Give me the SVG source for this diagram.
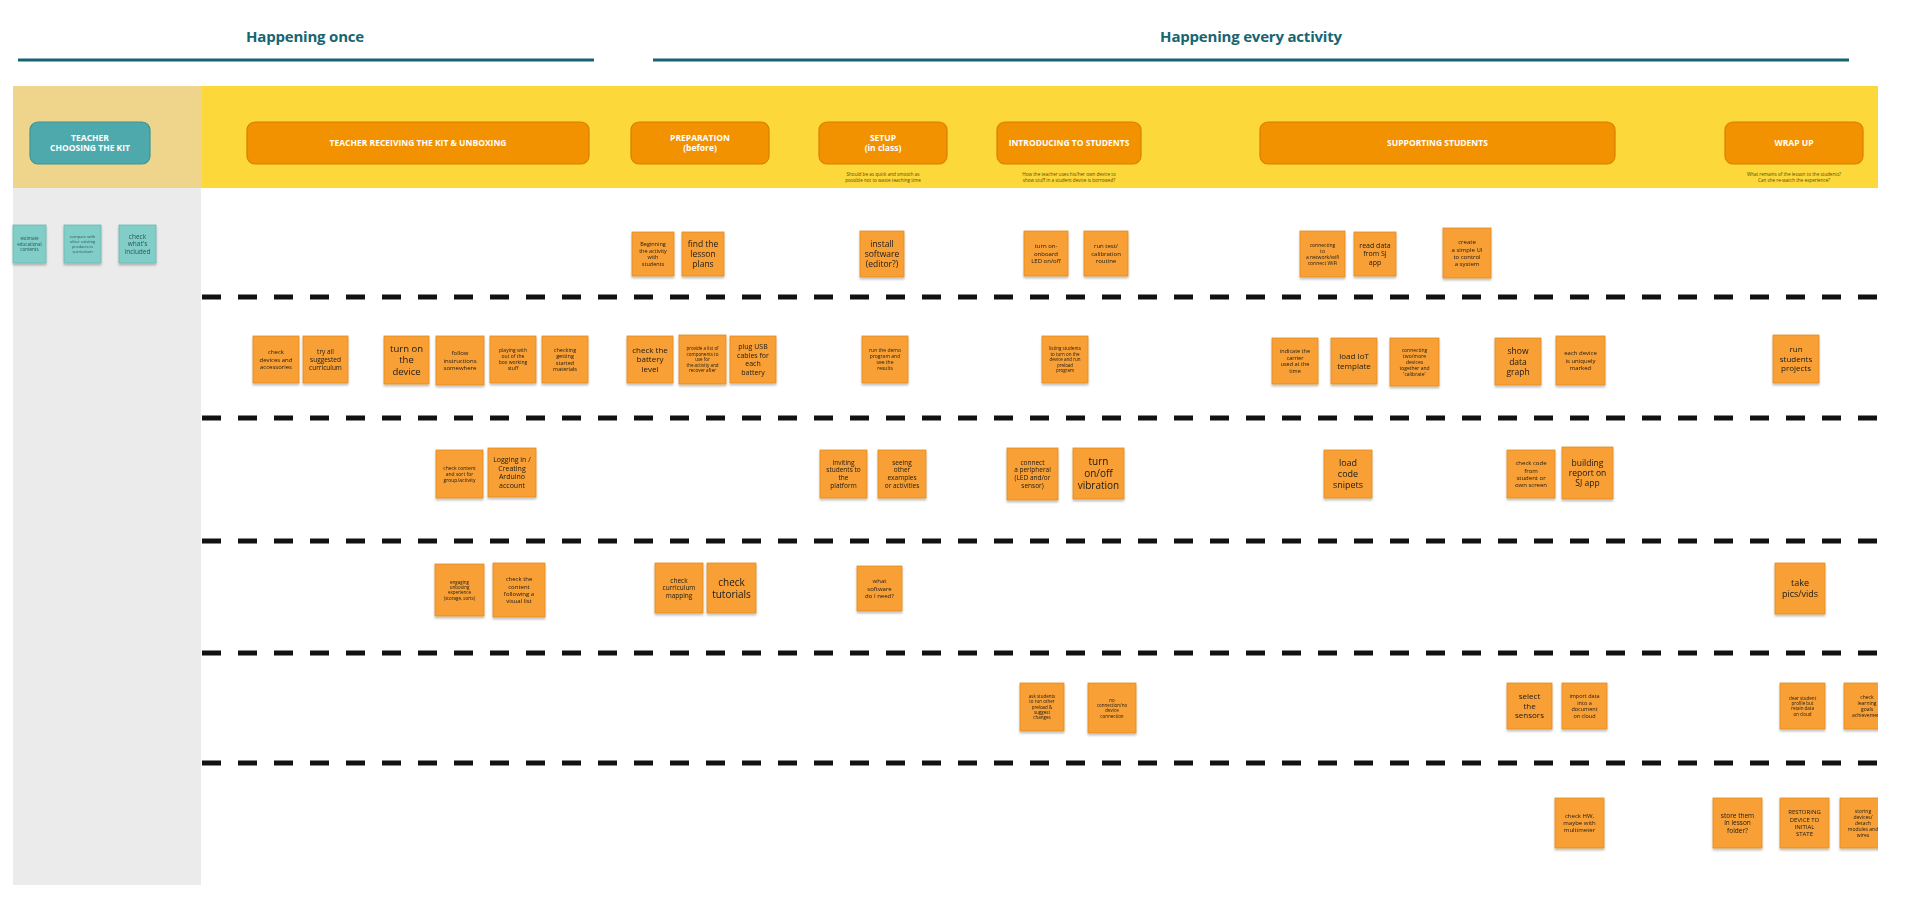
<svg xmlns="http://www.w3.org/2000/svg" width="1920" height="914" viewBox="0 0 1920 914">
<style>
.hd{font-family:"Open Sans","Liberation Sans",sans-serif;font-weight:bold;fill:#176573;font-size:15px;letter-spacing:-0.2px;text-anchor:middle}
.bar{stroke:#176573;stroke-width:3;fill:none}
.hbox{fill:#f39200;stroke:#d87f00;stroke-width:1.2}
.tbox{fill:#4ea9ac;stroke:#3f9497;stroke-width:1.2}
.hl{font-family:"Liberation Sans Narrow","Open Sans",sans-serif;font-weight:bold;fill:#ffffff;font-size:8.5px;text-anchor:middle}
.sub{font-family:"Liberation Sans Narrow","Open Sans",sans-serif;fill:#5a4a10;font-size:4.6px;text-anchor:middle}
.st{fill:#f8a035;stroke:#e1891f;stroke-width:0.8}
.tl{fill:#80cec7;stroke:#69b8b1;stroke-width:0.8}
.sx{font-family:"Liberation Sans Narrow","Open Sans",sans-serif;fill:#1a1a1a;text-anchor:middle}
.tx{font-family:"Liberation Sans Narrow","Open Sans",sans-serif;fill:#2d5553;text-anchor:middle}
.dash{stroke:#111111;stroke-width:5;stroke-dasharray:19 17;fill:none}
</style>
<defs>
<filter id="sh" x="-20%" y="-20%" width="140%" height="150%"><feDropShadow dx="0" dy="2" stdDeviation="1.2" flood-color="#000" flood-opacity="0.25"/></filter>
<clipPath id="cr"><rect x="0" y="0" width="1878" height="914"/></clipPath>
</defs>
<rect x="0" y="0" width="1920" height="914" fill="#ffffff"/>

<g id="timeline">
<text class="hd" x="305" y="42">Happening once</text>
<line class="bar" x1="18" y1="60" x2="594" y2="60"/>
<text class="hd" x="1251" y="42">Happening every activity</text>
<line class="bar" x1="653" y1="60" x2="1849" y2="60"/>
</g>

<g id="lanes">
<rect x="13" y="86" width="189" height="102" fill="#eed58b"/>
<rect x="202" y="86" width="1676" height="102" fill="#fdd83a"/>
<rect x="13" y="188" width="188" height="697" fill="#ebebeb"/>
</g>

<g id="phase-choosing"><rect class="tbox" x="30" y="122" width="120" height="42" rx="8"/><text class="hl" x="90" y="140.8">TEACHER<tspan x="90" dy="10">CHOOSING THE KIT</tspan></text></g>
<g id="phase-receiving"><rect class="hbox" x="247" y="122" width="342" height="42" rx="8"/><text class="hl" x="418" y="146">TEACHER RECEIVING THE KIT &amp; UNBOXING</text></g>
<g id="phase-preparation"><rect class="hbox" x="631" y="122" width="138" height="42" rx="8"/><text class="hl" x="700" y="140.8">PREPARATION<tspan x="700" dy="10">(before)</tspan></text></g>
<g id="phase-setup"><rect class="hbox" x="819" y="122" width="128" height="42" rx="8"/><text class="hl" x="883" y="140.8">SETUP<tspan x="883" dy="10">(in class)</tspan></text>
<text class="sub" x="883" y="176">Should be as quick and smooth as<tspan x="883" dy="6">possible not to waste teaching time</tspan></text></g>
<g id="phase-introducing"><rect class="hbox" x="997" y="122" width="144" height="42" rx="8"/><text class="hl" x="1069" y="146">INTRODUCING TO STUDENTS</text>
<text class="sub" x="1069" y="176">How the teacher uses his/her own device to<tspan x="1069" dy="6">show stuff in a student device is borrowed?</tspan></text></g>
<g id="phase-supporting"><rect class="hbox" x="1260" y="122" width="355" height="42" rx="8"/><text class="hl" x="1437.5" y="146">SUPPORTING STUDENTS</text></g>
<g id="phase-wrapup"><rect class="hbox" x="1725" y="122" width="138" height="42" rx="8"/><text class="hl" x="1794" y="146">WRAP UP</text>
<text class="sub" x="1794" y="176">What remains of the lesson to the students?<tspan x="1794" dy="6">Can she re-watch the experience?</tspan></text></g>

<g id="separators">
<line class="dash" x1="202" y1="297" x2="1878" y2="297"/>
<line class="dash" x1="202" y1="418" x2="1878" y2="418"/>
<line class="dash" x1="202" y1="541" x2="1878" y2="541"/>
<line class="dash" x1="202" y1="653" x2="1878" y2="653"/>
<line class="dash" x1="202" y1="763" x2="1878" y2="763"/>
</g>

<!-- teal stickies -->
<g id="t-estimate" filter="url(#sh)"><rect class="tl" x="13" y="225" width="33" height="38"/><text class="tx" font-size="4.5" x="29.5" y="240.2">estimate<tspan x="29.5" dy="5.4">educational</tspan><tspan x="29.5" dy="5.4">contents</tspan></text></g>
<g id="t-compare" filter="url(#sh)"><rect class="tl" x="64" y="225" width="37" height="38"/><text class="tx" font-size="4" x="82.5" y="238.2">compare with<tspan x="82.5" dy="4.8">other existing</tspan><tspan x="82.5" dy="4.8">products in</tspan><tspan x="82.5" dy="4.8">curriculum</tspan></text></g>
<g id="t-included" filter="url(#sh)"><rect class="tl" x="119" y="225" width="37" height="38"/><text class="tx" font-size="6.5" x="137.5" y="238.5">check<tspan x="137.5" dy="7.8">what's</tspan><tspan x="137.5" dy="7.8">included</tspan></text></g>

<!-- row 1 -->
<g id="s-beginning" filter="url(#sh)"><rect class="st" x="632" y="232" width="42" height="44"/><text class="sx" font-size="5.5" x="653" y="246">Beginning<tspan x="653" dy="6.6">the activity</tspan><tspan x="653" dy="6.6">with</tspan><tspan x="653" dy="6.6">students</tspan></text></g>
<g id="s-lessonplans" filter="url(#sh)"><rect class="st" x="682" y="232" width="42" height="44"/><text class="sx" font-size="8.5" x="703" y="246.8">find the<tspan x="703" dy="10.2">lesson</tspan><tspan x="703" dy="10.2">plans</tspan></text></g>
<g id="s-install" filter="url(#sh)"><rect class="st" x="860" y="231" width="44" height="46"/><text class="sx" font-size="8.5" x="882" y="246.8">install<tspan x="882" dy="10.2">software</tspan><tspan x="882" dy="10.2">(editor?)</tspan></text></g>
<g id="s-led" filter="url(#sh)"><rect class="st" x="1024" y="231" width="44" height="45"/><text class="sx" font-size="6" x="1046" y="248.4">turn on-<tspan x="1046" dy="7.2">onboard</tspan><tspan x="1046" dy="7.2">LED on/off</tspan></text></g>
<g id="s-calibration" filter="url(#sh)"><rect class="st" x="1084" y="231" width="44" height="45"/><text class="sx" font-size="6" x="1106" y="248.4">run test/<tspan x="1106" dy="7.2">calibration</tspan><tspan x="1106" dy="7.2">routine</tspan></text></g>
<g id="s-network" filter="url(#sh)"><rect class="st" x="1300" y="231" width="45" height="46"/><text class="sx" font-size="5" x="1322.5" y="246.75">connecting<tspan x="1322.5" dy="6">to</tspan><tspan x="1322.5" dy="6">a network/wifi</tspan><tspan x="1322.5" dy="6">connect WiFi</tspan></text></g>
<g id="s-readdata" filter="url(#sh)"><rect class="st" x="1354" y="232" width="42" height="44"/><text class="sx" font-size="7" x="1375" y="248">read data<tspan x="1375" dy="8.4">from SJ</tspan><tspan x="1375" dy="8.4">app</tspan></text></g>
<g id="s-simpleui" filter="url(#sh)"><rect class="st" x="1443" y="228" width="48" height="50"/><text class="sx" font-size="6" x="1467" y="244.3">create<tspan x="1467" dy="7.2">a simple UI</tspan><tspan x="1467" dy="7.2">to control</tspan><tspan x="1467" dy="7.2">a system</tspan></text></g>

<!-- row 2 -->
<g id="s-checkdevices" filter="url(#sh)"><rect class="st" x="253" y="336" width="46" height="47"/><text class="sx" font-size="6" x="276" y="354.4">check<tspan x="276" dy="7.2">devices and</tspan><tspan x="276" dy="7.2">accessories</tspan></text></g>
<g id="s-tryall" filter="url(#sh)"><rect class="st" x="303" y="336" width="45" height="47"/><text class="sx" font-size="6.5" x="325.5" y="354">try all<tspan x="325.5" dy="7.8">suggested</tspan><tspan x="325.5" dy="7.8">curriculum</tspan></text></g>
<g id="s-turnon" filter="url(#sh)"><rect class="st" x="384" y="336" width="45" height="48"/><text class="sx" font-size="9.5" x="406.5" y="351.9">turn on<tspan x="406.5" dy="11.4">the</tspan><tspan x="406.5" dy="11.4">device</tspan></text></g>
<g id="s-follow" filter="url(#sh)"><rect class="st" x="436" y="336" width="48" height="49"/><text class="sx" font-size="6" x="460" y="355.4">follow<tspan x="460" dy="7.2">instructions</tspan><tspan x="460" dy="7.2">somewhere</tspan></text></g>
<g id="s-playing" filter="url(#sh)"><rect class="st" x="490" y="336" width="46" height="47"/><text class="sx" font-size="5" x="513" y="352.25">playing with<tspan x="513" dy="6">out of the</tspan><tspan x="513" dy="6">box working</tspan><tspan x="513" dy="6">stuff</tspan></text></g>
<g id="s-checking" filter="url(#sh)"><rect class="st" x="542" y="336" width="46" height="47"/><text class="sx" font-size="5.5" x="565" y="351.5">checking<tspan x="565" dy="6.6">getting</tspan><tspan x="565" dy="6.6">started</tspan><tspan x="565" dy="6.6">materials</tspan></text></g>
<g id="s-battery" filter="url(#sh)"><rect class="st" x="627" y="336" width="46" height="47"/><text class="sx" font-size="8" x="650" y="352.7">check the<tspan x="650" dy="9.6">battery</tspan><tspan x="650" dy="9.6">level</tspan></text></g>
<g id="s-provide" filter="url(#sh)"><rect class="st" x="679" y="335" width="47" height="49"/><text class="sx" font-size="4.5" x="702.5" y="350.3">provide a list of<tspan x="702.5" dy="5.4">components to</tspan><tspan x="702.5" dy="5.4">use for</tspan><tspan x="702.5" dy="5.4">the activity and</tspan><tspan x="702.5" dy="5.4">recover after</tspan></text></g>
<g id="s-usb" filter="url(#sh)"><rect class="st" x="730" y="336" width="46" height="47"/><text class="sx" font-size="7" x="753" y="349.35">plug USB<tspan x="753" dy="8.4">cables for</tspan><tspan x="753" dy="8.4">each</tspan><tspan x="753" dy="8.4">battery</tspan></text></g>
<g id="s-demo" filter="url(#sh)"><rect class="st" x="862" y="336" width="46" height="47"/><text class="sx" font-size="5" x="885" y="352.25">run the demo<tspan x="885" dy="6">program and</tspan><tspan x="885" dy="6">see the</tspan><tspan x="885" dy="6">results</tspan></text></g>
<g id="s-listing" filter="url(#sh)"><rect class="st" x="1042" y="336" width="46" height="47"/><text class="sx" font-size="4.5" x="1065" y="350.3">listing students<tspan x="1065" dy="5.4">to turn on the</tspan><tspan x="1065" dy="5.4">device and run</tspan><tspan x="1065" dy="5.4">preload</tspan><tspan x="1065" dy="5.4">program</tspan></text></g>
<g id="s-carrier" filter="url(#sh)"><rect class="st" x="1272" y="338" width="46" height="46"/><text class="sx" font-size="5.5" x="1295" y="353">indicate the<tspan x="1295" dy="6.6">carrier</tspan><tspan x="1295" dy="6.6">used at the</tspan><tspan x="1295" dy="6.6">time</tspan></text></g>
<g id="s-iot" filter="url(#sh)"><rect class="st" x="1331" y="338" width="46" height="46"/><text class="sx" font-size="8" x="1354" y="359">load IoT<tspan x="1354" dy="9.6">template</tspan></text></g>
<g id="s-connecting" filter="url(#sh)"><rect class="st" x="1390" y="338" width="49" height="48"/><text class="sx" font-size="5" x="1414.5" y="351.75">connecting<tspan x="1414.5" dy="6">two/more</tspan><tspan x="1414.5" dy="6">devices</tspan><tspan x="1414.5" dy="6">together and</tspan><tspan x="1414.5" dy="6">'calibrate'</tspan></text></g>
<g id="s-graph" filter="url(#sh)"><rect class="st" x="1495" y="338" width="46" height="47"/><text class="sx" font-size="8.5" x="1518" y="354.3">show<tspan x="1518" dy="10.2">data</tspan><tspan x="1518" dy="10.2">graph</tspan></text></g>
<g id="s-marked" filter="url(#sh)"><rect class="st" x="1556" y="336" width="49" height="49"/><text class="sx" font-size="6" x="1580.5" y="355.4">each device<tspan x="1580.5" dy="7.2">is uniquely</tspan><tspan x="1580.5" dy="7.2">marked</tspan></text></g>
<g id="s-projects" filter="url(#sh)"><rect class="st" x="1773" y="335" width="46" height="48"/><text class="sx" font-size="8" x="1796" y="352.2">run<tspan x="1796" dy="9.6">students</tspan><tspan x="1796" dy="9.6">projects</tspan></text></g>

<!-- row 3 -->
<g id="s-sortcontent" filter="url(#sh)"><rect class="st" x="436" y="450" width="47" height="48"/><text class="sx" font-size="5" x="459.5" y="469.75">check content<tspan x="459.5" dy="6">and sort for</tspan><tspan x="459.5" dy="6">group/activity</tspan></text></g>
<g id="s-logging" filter="url(#sh)"><rect class="st" x="488" y="448" width="48" height="49"/><text class="sx" font-size="7" x="512" y="462.35">Logging in /<tspan x="512" dy="8.4">Creating</tspan><tspan x="512" dy="8.4">Arduino</tspan><tspan x="512" dy="8.4">account</tspan></text></g>
<g id="s-inviting" filter="url(#sh)"><rect class="st" x="820" y="450" width="47" height="48"/><text class="sx" font-size="6.5" x="843.5" y="464.6">Inviting<tspan x="843.5" dy="7.8">students to</tspan><tspan x="843.5" dy="7.8">the</tspan><tspan x="843.5" dy="7.8">platform</tspan></text></g>
<g id="s-examples" filter="url(#sh)"><rect class="st" x="878" y="450" width="48" height="48"/><text class="sx" font-size="6.5" x="902" y="464.6">seeing<tspan x="902" dy="7.8">other</tspan><tspan x="902" dy="7.8">examples</tspan><tspan x="902" dy="7.8">or activities</tspan></text></g>
<g id="s-peripheral" filter="url(#sh)"><rect class="st" x="1007" y="448" width="51" height="52"/><text class="sx" font-size="6.5" x="1032.5" y="464.6">connect<tspan x="1032.5" dy="7.8">a peripheral</tspan><tspan x="1032.5" dy="7.8">(LED and/or</tspan><tspan x="1032.5" dy="7.8">sensor)</tspan></text></g>
<g id="s-vibration" filter="url(#sh)"><rect class="st" x="1073" y="448" width="51" height="51"/><text class="sx" font-size="10" x="1098.5" y="465">turn<tspan x="1098.5" dy="12">on/off</tspan><tspan x="1098.5" dy="12">vibration</tspan></text></g>
<g id="s-snipets" filter="url(#sh)"><rect class="st" x="1324" y="450" width="48" height="48"/><text class="sx" font-size="9" x="1348" y="466.35">load<tspan x="1348" dy="10.8">code</tspan><tspan x="1348" dy="10.8">snipets</tspan></text></g>
<g id="s-checkcode" filter="url(#sh)"><rect class="st" x="1507" y="450" width="48" height="48"/><text class="sx" font-size="6" x="1531" y="465.3">check code<tspan x="1531" dy="7.2">from</tspan><tspan x="1531" dy="7.2">student or</tspan><tspan x="1531" dy="7.2">own screen</tspan></text></g>
<g id="s-report" filter="url(#sh)"><rect class="st" x="1562" y="447" width="51" height="52"/><text class="sx" font-size="8.5" x="1587.5" y="465.8">building<tspan x="1587.5" dy="10.2">report on</tspan><tspan x="1587.5" dy="10.2">SJ app</tspan></text></g>

<!-- row 4 -->
<g id="s-engaging" filter="url(#sh)"><rect class="st" x="435" y="564" width="49" height="52"/><text class="sx" font-size="4.5" x="459.5" y="583.5">engaging<tspan x="459.5" dy="5.4">unboxing</tspan><tspan x="459.5" dy="5.4">experience</tspan><tspan x="459.5" dy="5.4">(storage, sorts)</tspan></text></g>
<g id="s-visuallist" filter="url(#sh)"><rect class="st" x="493" y="563" width="52" height="54"/><text class="sx" font-size="6" x="519" y="581.3">check the<tspan x="519" dy="7.2">content</tspan><tspan x="519" dy="7.2">following a</tspan><tspan x="519" dy="7.2">visual list</tspan></text></g>
<g id="s-mapping" filter="url(#sh)"><rect class="st" x="655" y="563" width="48" height="50"/><text class="sx" font-size="6.5" x="679" y="582.5">check<tspan x="679" dy="7.8">curriculum</tspan><tspan x="679" dy="7.8">mapping</tspan></text></g>
<g id="s-tutorials" filter="url(#sh)"><rect class="st" x="707" y="563" width="49" height="50"/><text class="sx" font-size="10" x="731.5" y="585.5">check<tspan x="731.5" dy="12">tutorials</tspan></text></g>
<g id="s-whatsoftware" filter="url(#sh)"><rect class="st" x="857" y="566" width="45" height="45"/><text class="sx" font-size="6" x="879.5" y="583.4">what<tspan x="879.5" dy="7.2">software</tspan><tspan x="879.5" dy="7.2">do I need?</tspan></text></g>
<g id="s-pics" filter="url(#sh)"><rect class="st" x="1775" y="563" width="50" height="51"/><text class="sx" font-size="9" x="1800" y="586.25">take<tspan x="1800" dy="10.8">pics/vids</tspan></text></g>

<!-- row 5 -->
<g id="s-askstudents" filter="url(#sh)"><rect class="st" x="1020" y="683" width="44" height="48"/><text class="sx" font-size="4.5" x="1042" y="697.8">ask students<tspan x="1042" dy="5.4">to run other</tspan><tspan x="1042" dy="5.4">preload &amp;</tspan><tspan x="1042" dy="5.4">suggest</tspan><tspan x="1042" dy="5.4">changes</tspan></text></g>
<g id="s-noconnection" filter="url(#sh)"><rect class="st" x="1088" y="683" width="48" height="50"/><text class="sx" font-size="4.5" x="1112" y="701.5">no<tspan x="1112" dy="5.4">connection/no</tspan><tspan x="1112" dy="5.4">device</tspan><tspan x="1112" dy="5.4">connection</tspan></text></g>
<g id="s-sensors" filter="url(#sh)"><rect class="st" x="1507" y="683" width="45" height="46"/><text class="sx" font-size="8" x="1529.5" y="699.2">select<tspan x="1529.5" dy="9.6">the</tspan><tspan x="1529.5" dy="9.6">sensors</tspan></text></g>
<g id="s-import" filter="url(#sh)"><rect class="st" x="1562" y="683" width="45" height="46"/><text class="sx" font-size="5.5" x="1584.5" y="698">import data<tspan x="1584.5" dy="6.6">into a</tspan><tspan x="1584.5" dy="6.6">document</tspan><tspan x="1584.5" dy="6.6">on cloud</tspan></text></g>
<g id="s-clearprofile" filter="url(#sh)"><rect class="st" x="1780" y="683" width="45" height="46"/><text class="sx" font-size="4.5" x="1802.5" y="699.5">clear student<tspan x="1802.5" dy="5.4">profile but</tspan><tspan x="1802.5" dy="5.4">retain data</tspan><tspan x="1802.5" dy="5.4">on cloud</tspan></text></g>
<g clip-path="url(#cr)"><g id="s-goals" filter="url(#sh)"><rect class="st" x="1844" y="683" width="46" height="46"/><text class="sx" font-size="5" x="1867" y="698.75">check<tspan x="1867" dy="6">learning</tspan><tspan x="1867" dy="6">goals</tspan><tspan x="1867" dy="6">achievement</tspan></text></g></g>

<!-- row 6 -->
<g id="s-multimeter" filter="url(#sh)"><rect class="st" x="1555" y="798" width="49" height="50"/><text class="sx" font-size="6" x="1579.5" y="817.9">check HW,<tspan x="1579.5" dy="7.2">maybe with</tspan><tspan x="1579.5" dy="7.2">multimeter</tspan></text></g>
<g id="s-store" filter="url(#sh)"><rect class="st" x="1713" y="798" width="49" height="50"/><text class="sx" font-size="6.5" x="1737.5" y="817.5">store them<tspan x="1737.5" dy="7.8">in lesson</tspan><tspan x="1737.5" dy="7.8">folder?</tspan></text></g>
<g id="s-restoring" filter="url(#sh)"><rect class="st" x="1780" y="798" width="49" height="50"/><text class="sx" font-size="6" x="1804.5" y="814.3">RESTORING<tspan x="1804.5" dy="7.2">DEVICE TO</tspan><tspan x="1804.5" dy="7.2">INITIAL</tspan><tspan x="1804.5" dy="7.2">STATE</tspan></text></g>
<g clip-path="url(#cr)"><g id="s-storing" filter="url(#sh)"><rect class="st" x="1840" y="798" width="46" height="50"/><text class="sx" font-size="5" x="1863" y="812.75">storing<tspan x="1863" dy="6">devices/</tspan><tspan x="1863" dy="6">detach</tspan><tspan x="1863" dy="6">modules and</tspan><tspan x="1863" dy="6">wires</tspan></text></g></g>
</svg>
